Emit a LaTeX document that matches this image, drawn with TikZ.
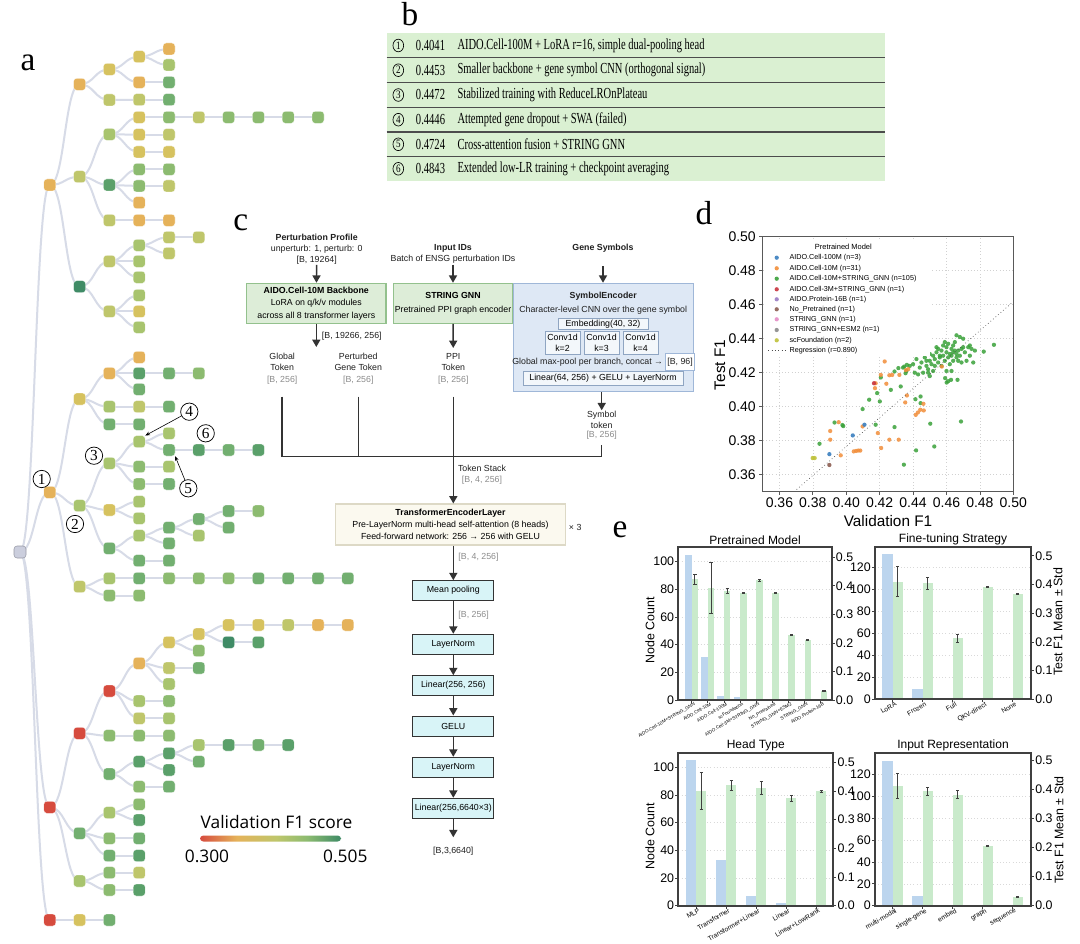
\documentclass[tikz,border=0pt]{standalone}
\usepackage{fontspec}
\usepackage{graphicx}
\setmainfont{Liberation Serif}
\setsansfont{Liberation Sans}
\newfontfamily\osans{Open Sans}
\usetikzlibrary{calc,arrows.meta,shapes.geometric}
\pgfdeclarelayer{bg}
\pgfsetlayers{bg,main}
\definecolor{tR}{HTML}{D64B3E}
\definecolor{tO}{HTML}{E5B25A}
\definecolor{tY}{HTML}{D6C25F}
\definecolor{tYG}{HTML}{BFC66B}
\definecolor{tLG}{HTML}{A8C46E}
\definecolor{tG}{HTML}{8CBB70}
\definecolor{tMG}{HTML}{72AF70}
\definecolor{tDG}{HTML}{5AA06A}
\definecolor{tT}{HTML}{3F8B66}
\definecolor{tRoot}{HTML}{CBCEDD}
\definecolor{edgec}{HTML}{D7DBE7}
\definecolor{tabgreen}{HTML}{DAF0D2}
\definecolor{cgfill}{HTML}{DDEDD8}
\definecolor{cgdraw}{HTML}{93C18D}
\definecolor{cbfill}{HTML}{DEE8F5}
\definecolor{cbdraw}{HTML}{9FB7D8}
\definecolor{cyfill}{HTML}{FBF9EF}
\definecolor{cydraw}{HTML}{DDD9C6}
\definecolor{ccfill}{HTML}{D8F4F7}
\definecolor{dBlue}{HTML}{3A7FBF}
\definecolor{dOrange}{HTML}{F28E3A}
\definecolor{dGreen}{HTML}{3AA13A}
\definecolor{dRed}{HTML}{C8333F}
\definecolor{dPurple}{HTML}{9A7CC4}
\definecolor{dBrown}{HTML}{8C5E52}
\definecolor{dPink}{HTML}{E58CC6}
\definecolor{dGray}{HTML}{8A8A8A}
\definecolor{dOlive}{HTML}{BFC23A}
\definecolor{eBlue}{HTML}{BCD5EE}
\definecolor{eGreen}{HTML}{C9EACB}
\pgfdeclarehorizontalshading{fone}{100bp}{color(0bp)=(tR); color(25bp)=(tR); color(38bp)=(tO); color(52bp)=(tYG); color(63bp)=(tG); color(75bp)=(tT); color(100bp)=(tT)}
\newcommand\tn[4]{\node[tnode,fill=#4] (#1) at ({20+29.8*#2},#3) {};}
\newcommand\tl[2]{\draw[tedge] (#1.center) .. controls ($(#1.center)+(14.9,0)$) and ($(#2.center)+(-14.9,0)$) .. (#2.center);}
\newcommand\ebar[4]{%
  \fill[ebl] ({\ecx+\eco+\ecs*#1-\ebw},\ecy) rectangle ({\ecx+\eco+\ecs*#1},{\ecy-\ekc*#2});
  \fill[egr] ({\ecx+\eco+\ecs*#1},\ecy) rectangle ({\ecx+\eco+\ecs*#1+\ebw},{\ecy-\ekf*#3});
  \draw[eerr] ({\ecx+\eco+\ecs*#1+\ebw/2},{\ecy-\ekf*(#3-#4)}) -- ({\ecx+\eco+\ecs*#1+\ebw/2},{\ecy-\ekf*(#3+#4)});
  \draw[eerr] ({\ecx+\eco+\ecs*#1+\ebw/2-1.6},{\ecy-\ekf*(#3-#4)}) -- ++(3.2,0);
  \draw[eerr] ({\ecx+\eco+\ecs*#1+\ebw/2-1.6},{\ecy-\ekf*(#3+#4)}) -- ++(3.2,0);
}
\newcommand\elab[2]{\node[elabs,rotate=30,anchor=north east] (e\eid l#1) at ({\ecx+\eco+\ecs*#1+2},{\ecy+2}) {#2};}
\newcommand\egrid{\foreach \t in \eglist \draw[egridl] (\ecx,{\ecy-\ekc*\t}) -- ({\ecx+\ecw},{\ecy-\ekc*\t});}
\newcommand\eaxes{%
  \draw[eframe] (\ecx,\ecy) rectangle ({\ecx+\ecw},{\ecy-\ech});
  \foreach \t in \elist {
    \draw[etick] (\ecx,{\ecy-\ekc*\t}) -- ++(-3,0);
    \node[etl,anchor=east] (e\eid y\t) at ({\ecx-4},{\ecy-\ekc*\t}) {\t};
  }
  \foreach \t in {0,...,5} {
    \draw[etick] ({\ecx+\ecw},{\ecy-\ekf*\t/10}) -- ++(3,0);
    \node[etl,anchor=west] (e\eid r\t) at ({\ecx+\ecw+4},{\ecy-\ekf*\t/10}) {0.\t};
  }
  \foreach \i in {0,...,\encat} \draw[etick] ({\ecx+\eco+\ecs*\i},\ecy) -- ++(0,3);
}
\begin{document}
\begin{tikzpicture}[x=0.75pt,y=-0.75pt,
  tnode/.style={rectangle,rounded corners=2.3pt,minimum width=9pt,minimum height=9pt,inner sep=0pt,draw=white,line width=0.2pt},
  tedge/.style={draw=edgec,line width=1.5pt},
  plabel/.style={font=\fontsize{25}{25}\selectfont,inner sep=0pt},
  anum/.style={circle,draw,line width=0.55pt,inner sep=0pt,minimum size=13pt,font=\fontsize{11.5}{11.5}\selectfont},
  aarrow/.style={-{Stealth[length=3.5pt,width=2.8pt]},line width=0.45pt},
  tabline/.style={draw=black!70,line width=0.9pt},
  bnum/.style={ellipse,draw,line width=0.5pt,inner sep=0pt,minimum width=8pt,minimum height=9.5pt,font=\fontsize{8.5}{8.5}\selectfont},
  btxt/.style={inner sep=0pt,font=\fontsize{11.5}{12}\selectfont},
  ct/.style={font=\sffamily\fontsize{6.6}{8}\selectfont,align=center,inner sep=0.5pt,text=black!88},
  cgr/.style={ct,text=black!45},
  cbox/.style={rectangle,line width=0.8pt,inner sep=1pt,align=center,font=\sffamily\fontsize{6.6}{9.4}\selectfont},
  ibox/.style={rectangle,draw=cbdraw!90!black,fill=white!65!cbfill,line width=0.5pt,inner sep=0.5pt,align=center,font=\sffamily\fontsize{6.6}{7.6}\selectfont},
  hbox/.style={rectangle,draw=black!80,fill=ccfill,line width=0.75pt,minimum width=60.75pt,minimum height=15pt,inner sep=0pt,font=\sffamily\fontsize{6.6}{8}\selectfont},
  carrow/.style={draw=black!80,line width=1.1pt,-{Triangle[width=6pt,length=5.5pt]}},
  cline/.style={draw=black!80,line width=1.1pt},
  dframe/.style={draw=black!65,line width=0.9pt},
  dgrid/.style={draw=black!18,line width=0.4pt,dotted},
  dtl/.style={font=\sffamily\fontsize{10.5}{11}\selectfont,inner sep=0pt},
  dleg/.style={font=\sffamily\fontsize{5.4}{6}\selectfont,inner sep=0pt,anchor=west},
  eframe/.style={draw=black!75,line width=1.4pt},
  egridl/.style={draw=black!15,line width=0.4pt,dotted},
  etick/.style={draw=black!75,line width=0.6pt},
  etl/.style={font=\sffamily\fontsize{9.3}{10}\selectfont,inner sep=0pt},
  elabs/.style={font=\sffamily\fontsize{5}{5}\selectfont,inner sep=0pt},
  ebl/.style={fill=eBlue},
  egr/.style={fill=eGreen},
  eerr/.style={draw=black!75,line width=0.7pt},
  etitle/.style={font=\sffamily\fontsize{9}{10}\selectfont,inner sep=0pt,anchor=south},
]
\useasboundingbox (0,0) rectangle (1080,944);
\begin{pgfonlayer}{bg}
\fill[white] (0,0) rectangle (1080,944);
\end{pgfonlayer}

%================ panel labels
\node[plabel] (la) at (28,63) {a};
\node[plabel] (lb) at (410,14) {b};
\node[plabel] (lc) at (240.8,222.5) {c};
\node[plabel] (ld) at (704,213) {d};
\node[plabel] (le) at (620,529.5) {e};

%================ panel a: tree
\node[tnode,fill=tRoot,draw=tRoot!75!black,line width=0.4pt] (R) at (20,552) {};
\tn{A}{1}{185}{tO}
\tn{A1}{2}{84.3}{tO}
\tn{A11}{3}{69.3}{tY}
\tn{A111}{4}{56.7}{tY}
\tn{A1111}{5}{49}{tO}
\tn{A1112}{5}{65}{tLG}
\tn{A112}{4}{82.3}{tO}
\tn{A1121}{5}{82.3}{tMG}
\tn{A12}{3}{100}{tYG}
\tn{A121}{4}{99.7}{tYG}
\tn{A1211}{5}{99.7}{tMG}
\tn{A2}{2}{176.7}{tYG}
\tn{A21}{3}{134.3}{tLG}
\tn{A211}{4}{117.3}{tY}
\tn{Aa5}{5}{117.3}{tG}
\tn{Aa6}{6}{117.3}{tYG}
\tn{Aa7}{7}{117.3}{tG}
\tn{Aa8}{8}{117.3}{tG}
\tn{Aa9}{9}{117.3}{tG}
\tn{Aa10}{10}{117.3}{tG}
\tn{A212}{4}{134.7}{tY}
\tn{A2121}{5}{134.7}{tYG}
\tn{A213}{4}{152}{tY}
\tn{A2131}{5}{152}{tY}
\tn{A22}{3}{185}{tDG}
\tn{A221}{4}{169.3}{tG}
\tn{A2211}{5}{169.3}{tG}
\tn{A222}{4}{186}{tG}
\tn{A2221}{5}{186}{tYG}
\tn{A223}{4}{202.7}{tO}
\tn{A23}{3}{220.3}{tYG}
\tn{A231}{4}{220.3}{tO}
\tn{A2311}{5}{220.3}{tO}
\tn{A3}{2}{286.7}{tT}
\tn{A31}{3}{261.3}{tYG}
\tn{A311}{4}{245.3}{tLG}
\tn{A3111}{5}{237.3}{tYG}
\tn{A31111}{6}{237.3}{tYG}
\tn{A3112}{5}{253.3}{tYG}
\tn{A312}{4}{261.3}{tLG}
\tn{A313}{4}{277.3}{tLG}
\tn{A32}{3}{311.5}{tYG}
\tn{A321}{4}{295.3}{tLG}
\tn{A322}{4}{311.5}{tY}
\tn{A323}{4}{327.3}{tLG}
\tn{B}{1}{492.3}{tO}
\tn{B1}{2}{399}{tY}
\tn{B11}{3}{373.3}{tO}
\tn{B111}{4}{357.3}{tO}
\tn{B112}{4}{373.3}{tDG}
\tn{B1121}{5}{373.3}{tMG}
\tn{B11211}{6}{373.3}{tG}
\tn{B113}{4}{389.3}{tMG}
\tn{B12}{3}{406.7}{tLG}
\tn{B121}{4}{406.7}{tYG}
\tn{B1211}{5}{406.7}{tMG}
\tn{B13}{3}{424.3}{tMG}
\tn{B131}{4}{424.3}{tMG}
\tn{B2}{2}{505.7}{tLG}
\tn{B21}{3}{463.3}{tLG}
\tn{B211}{4}{441.7}{tLG}
\tn{B2111}{5}{433.3}{tLG}
\tn{B2112}{5}{450}{tMG}
\tn{Bb6}{6}{450}{tDG}
\tn{Bb7}{7}{450}{tMG}
\tn{Bb8}{8}{450}{tDG}
\tn{B212}{4}{466.7}{tG}
\tn{B2121}{5}{466.7}{tLG}
\tn{B213}{4}{484}{tG}
\tn{B2131}{5}{484}{tMG}
\tn{B22}{3}{510}{tY}
\tn{B221}{4}{501.7}{tLG}
\tn{B222}{4}{518.3}{tLG}
\tn{B23}{3}{548.3}{tMG}
\tn{B231}{4}{535.7}{tLG}
\tn{B2311}{5}{527.7}{tMG}
\tn{B23111}{6}{519}{tMG}
\tn{B231111}{7}{511}{tMG}
\tn{B2311111}{8}{511}{tG}
\tn{B231112}{7}{527.7}{tMG}
\tn{B23112}{6}{535.7}{tLG}
\tn{B2312}{5}{543.3}{tMG}
\tn{B232}{4}{560.7}{tMG}
\tn{B2321}{5}{560.7}{tMG}
\tn{B3}{2}{586.7}{tYG}
\tn{B31}{3}{578.3}{tLG}
\tn{Bc4}{4}{578.3}{tMG}
\tn{Bc5}{5}{578.3}{tG}
\tn{Bc6}{6}{578.3}{tG}
\tn{Bc7}{7}{578.3}{tG}
\tn{Bc8}{8}{578.3}{tMG}
\tn{Bc9}{9}{578.3}{tMG}
\tn{Bc10}{10}{578.3}{tMG}
\tn{Bc11}{11}{578.3}{tMG}
\tn{B32}{3}{595.5}{tG}
\tn{B321}{4}{595.5}{tG}
\tn{C}{1}{807.3}{tR}
\tn{C1}{2}{733.3}{tR}
\tn{C11}{3}{691}{tR}
\tn{C111}{4}{663.3}{tO}
\tn{C1111}{5}{642.3}{tY}
\tn{C11111}{6}{634}{tY}
\tn{Cc7}{7}{625}{tY}
\tn{Cc8}{8}{625}{tY}
\tn{Cc9}{9}{625}{tYG}
\tn{Cc10}{10}{625}{tO}
\tn{Cc11}{11}{625}{tO}
\tn{Cd7}{7}{642.3}{tT}
\tn{Cd8}{8}{642.3}{tDG}
\tn{C11112}{6}{650.7}{tG}
\tn{C1112}{5}{668}{tYG}
\tn{C11121}{6}{668}{tMG}
\tn{C1113}{5}{684}{tLG}
\tn{C112}{4}{701}{tLG}
\tn{C1121}{5}{701}{tG}
\tn{C113}{4}{718.3}{tYG}
\tn{C1131}{5}{718.3}{tLG}
\tn{C12}{3}{735.7}{tG}
\tn{C121}{4}{735.7}{tG}
\tn{C1211}{5}{735.7}{tG}
\tn{C13}{3}{774}{tMG}
\tn{C131}{4}{761.7}{tDG}
\tn{C1311}{5}{753.3}{tDG}
\tn{Ce6}{6}{745}{tLG}
\tn{Ce7}{7}{745}{tDG}
\tn{Ce8}{8}{745}{tMG}
\tn{Ce9}{9}{745}{tDG}
\tn{C13112}{6}{761.7}{tMG}
\tn{C1312}{5}{770}{tDG}
\tn{C132}{4}{786.7}{tG}
\tn{C1321}{5}{786.7}{tMG}
\tn{C2}{2}{833.3}{tMG}
\tn{C21}{3}{812.7}{tLG}
\tn{C211}{4}{804.3}{tG}
\tn{C212}{4}{820}{tDG}
\tn{C22}{3}{838.3}{tG}
\tn{C221}{4}{838.3}{tMG}
\tn{C23}{3}{855.7}{tMG}
\tn{C231}{4}{855.7}{tDG}
\tn{C3}{2}{881}{tLG}
\tn{C31}{3}{872.7}{tG}
\tn{C311}{4}{872.7}{tYG}
\tn{C32}{3}{890}{tG}
\tn{C321}{4}{890}{tDG}
\tn{D}{1}{920}{tR}
\tn{D1}{2}{920}{tY}
\tn{D11}{3}{920}{tMG}
\begin{pgfonlayer}{bg}
\foreach \p/\c in {R/A,R/B,R/C,R/D,
 A/A1,A/A2,A/A3,A1/A11,A1/A12,A11/A111,A11/A112,A111/A1111,A111/A1112,A112/A1121,A12/A121,A121/A1211,
 A2/A21,A2/A22,A2/A23,A21/A211,A21/A212,A21/A213,A211/Aa5,Aa5/Aa6,Aa6/Aa7,Aa7/Aa8,Aa8/Aa9,Aa9/Aa10,
 A212/A2121,A213/A2131,A22/A221,A22/A222,A22/A223,A221/A2211,A222/A2221,A23/A231,A231/A2311,
 A3/A31,A3/A32,A31/A311,A31/A312,A31/A313,A311/A3111,A311/A3112,A3111/A31111,A32/A321,A32/A322,A32/A323,
 B/B1,B/B2,B/B3,B1/B11,B1/B12,B1/B13,B11/B111,B11/B112,B11/B113,B112/B1121,B1121/B11211,B12/B121,B121/B1211,B13/B131,
 B2/B21,B2/B22,B2/B23,B21/B211,B21/B212,B21/B213,B211/B2111,B211/B2112,B2112/Bb6,Bb6/Bb7,Bb7/Bb8,B212/B2121,B213/B2131,
 B22/B221,B22/B222,B23/B231,B23/B232,B231/B2311,B231/B2312,B2311/B23111,B2311/B23112,B23111/B231111,B23111/B231112,
 B231111/B2311111,B232/B2321,B3/B31,B3/B32,B31/Bc4,Bc4/Bc5,Bc5/Bc6,Bc6/Bc7,Bc7/Bc8,Bc8/Bc9,Bc9/Bc10,Bc10/Bc11,B32/B321,
 C/C1,C/C2,C/C3,C1/C11,C1/C12,C1/C13,C11/C111,C11/C112,C11/C113,C111/C1111,C111/C1112,C111/C1113,C1111/C11111,C1111/C11112,
 C11111/Cc7,C11111/Cd7,Cc7/Cc8,Cc8/Cc9,Cc9/Cc10,Cc10/Cc11,Cd7/Cd8,C1112/C11121,C112/C1121,C113/C1131,C12/C121,C121/C1211,
 C13/C131,C13/C132,C131/C1311,C131/C1312,C1311/Ce6,C1311/C13112,Ce6/Ce7,Ce7/Ce8,Ce8/Ce9,C132/C1321,
 C2/C21,C2/C22,C2/C23,C21/C211,C21/C212,C22/C221,C23/C231,C3/C31,C3/C32,C31/C311,C32/C321,D/D1,D1/D11}
 {\tl{\p}{\c}}
\end{pgfonlayer}
% circled milestones
\node[anum] (n1) at (41.7,479) {1};
\node[anum] (n2) at (75,524) {2};
\node[anum] (n3) at (94,455.7) {3};
\node[anum] (n4) at (189.3,411.7) {4};
\node[anum] (n5) at (188.3,488.3) {5};
\node[anum] (n6) at (205.7,433.3) {6};
\draw[aarrow] (n4) -- (B211.north east);
\draw[aarrow] (n5) -- (B2112.south east);
% colour bar
\node[font=\osans\fontsize{13}{14}\selectfont,inner sep=0pt] (cbt) at (276.5,822) {Validation F1 score};
\shade[shading=fone,rounded corners=2.5pt] (200,835.5) rectangle (341,841.5);
\node[font=\osans\fontsize{13}{14}\selectfont,inner sep=0pt] (cbl) at (207,856) {0.300};
\node[font=\osans\fontsize{13}{14}\selectfont,inner sep=0pt] (cbr) at (345.3,856) {0.505};

%================ panel b: table
\fill[tabgreen] (386.7,33.3) rectangle (885,181);
\foreach \y in {57.7,82.7,107.3,132,156.7} \draw[tabline] (386.7,\y) -- (885,\y);
\foreach \i/\y/\v/\t in {
 1/45.5/0.4041/{AIDO.Cell-100M + LoRA r=16, simple dual-pooling head},
 2/70.2/0.4453/{Smaller backbone + gene symbol CNN (orthogonal signal)},
 3/95/0.4472/{Stabilized training with ReduceLROnPlateau},
 4/119.7/0.4446/{Attempted gene dropout + SWA (failed)},
 5/144.3/0.4724/{Cross-attention fusion + STRING GNN},
 6/168.8/0.4843/{Extended low-LR training + checkpoint averaging}} {
 \node[bnum] (b\i c) at (398.3,\y) {\scalebox{0.8}[1]{\i}};
 \node[btxt,anchor=west] (b\i v) at (415.7,\y) {\scalebox{0.69}[1]{\v}};
 \node[btxt,anchor=west] (b\i t) at (457.3,\y) {\scalebox{0.685}[1]{\t}};
}

%================ panel c: architecture
\node[ct] (pp) at (316.7,249) {\textbf{Perturbation Profile}\\[0.4pt]unperturb: 1, perturb: 0\\{[B, 19264]}};
\node[cbox,fill=cgfill,draw=cgdraw,minimum width=104.5pt,minimum height=30pt] (aido) at (316.3,303.3) {\textbf{AIDO.Cell-10M Backbone}\\LoRA on q/k/v modules\\across all 8 transformer layers};
\draw[carrow] (pp) -- (aido);
\coordinate (aout) at (316.3,347);
\draw[carrow] (aido) -- (aout);
\node[ct,anchor=west] (aoutl) at (321,336.7) {[B, 19266, 256]};
\node[ct] (inp) at (453,254) {\textbf{Input IDs}\\[0.8pt]Batch of ENSG perturbation IDs};
\node[cbox,fill=cgfill,draw=cgdraw,minimum width=87pt,minimum height=30pt,font=\sffamily\fontsize{6.6}{11}\selectfont] (sgnn) at (453,303.3) {\textbf{STRING GNN}\\Pretrained PPI graph encoder};
\draw[carrow] (inp) -- (sgnn);
\node[ct] (gsym) at (603,248) {\textbf{Gene Symbols}};
\node[cbox,fill=cbfill,draw=cbdraw,minimum width=134.8pt,minimum height=81.3pt] (senc) at (603.2,337.5) {};
\draw[carrow,shorten <=10pt] (gsym) -- (gsym |- senc.north);
\node[ct] (sencT) at (603.2,296) {\textbf{SymbolEncoder}};
\node[ct] (sencD) at (603.2,310) {Character-level CNN over the gene symbol};
\node[ibox,minimum width=67.5pt,minimum height=8.25pt] (emb) at (603,323.8) {Embedding(40, 32)};
\node[ibox,minimum width=26.25pt,minimum height=16.7pt] (cv1) at (562.5,342.8) {Conv1d\\k=2};
\node[ibox,minimum width=26.25pt,minimum height=16.7pt] (cv2) at (601.5,342.8) {Conv1d\\k=3};
\node[ibox,minimum width=26.25pt,minimum height=16.7pt] (cv3) at (640.5,342.8) {Conv1d\\k=4};
\node[ct] (gmp) at (603.5,362) {Global max-pool per branch, concat → \fcolorbox{cbdraw}{white}{\kern-2pt[B, 96]\kern-2pt}};
\node[ibox,minimum width=119.8pt,minimum height=10pt] (lin64) at (603,378.3) {Linear(64, 256) + GELU + LayerNorm};
% tokens
\node[ct] (gtok) at (282.2,362) {Global\\Token};
\node[cgr] (gtokd) at (282.2,380.7) {[B, 256]};
\node[ct] (ptok) at (358.3,362) {Perturbed\\Gene Token};
\node[cgr] (ptokd) at (358.3,380.7) {[B, 256]};
\node[ct] (ppi) at (453.3,362) {PPI\\Token};
\node[cgr] (ppid) at (453.3,380.7) {[B, 256]};
\draw[carrow,shorten >=3.5pt] (sgnn) -- (ppi);
\node[ct] (stok) at (601.7,419.8) {Symbol\\token};
\node[cgr] (stokd) at (601.7,435.7) {[B, 256]};
\draw[carrow] (senc.south -| stok) -- (stok.north);
\coordinate (bus) at (453.3,456.7);
\draw[cline] (gtokd.south) ++(0,11) |- (bus) -| ($(stokd.south)+(0,4)$);
\draw[cline] (ptokd.south) ++(0,11) -- (ptokd.south |- bus);
\draw[cline] (ppid.south) ++(0,11) -- (bus);
\node[ct] (tstack) at (482,475) {Token Stack\\[0.5pt]{\color{black!45}[B, 4, 256]}};
\node[cbox,fill=cyfill,draw=cydraw,minimum width=173pt,minimum height=30.75pt,font=\sffamily\fontsize{6.6}{9}\selectfont] (tel) at (450.5,524.5) {\textbf{TransformerEncoderLayer}\\Pre-LayerNorm multi-head self-attention (8 heads)\\Feed-forward network: 256 → 256 with GELU};
\node[ct,anchor=west] (x3) at (568,527) {× 3};
\draw[carrow] (bus) -- (tel.north -| bus);
\node[hbox] (mp) at (453.3,590.7) {Mean pooling};
\node[hbox] (ln1) at (453.3,644.3) {LayerNorm};
\node[hbox] (lin1) at (453.3,685.7) {Linear(256, 256)};
\node[hbox] (gelu) at (453.3,726) {GELU};
\node[hbox] (ln2) at (453.3,767.3) {LayerNorm};
\node[hbox] (lin2) at (453.3,808.3) {Linear(256,6640×3)};
\node[ct] (outd) at (453.3,851) {[B,3,6640]};
\draw[carrow] (tel.south -| bus) -- (mp.north);
\draw[carrow] (mp) -- (ln1);
\draw[carrow] (ln1) -- (lin1);
\draw[carrow] (lin1) -- (gelu);
\draw[carrow] (gelu) -- (ln2);
\draw[carrow] (ln2) -- (lin2);
\draw[carrow,shorten >=6.5pt] (lin2) -- (outd);
\node[cgr,anchor=west] (l1) at (457.5,557.3) {[B, 4, 256]};
\node[cgr,anchor=west] (l2) at (457.5,615) {[B, 256]};

%================ panel d: scatter
\begin{scope}[shift={(762.7,491.7)},x=12.53pt,y=12.75pt,shift={(-35,-35)}]
 \foreach \v in {36,38,...,48} {
   \draw[dgrid] (\v,35) -- (\v,50);
   \draw[dgrid] (35,\v) -- (50,\v);
 }
 \foreach \x/\y in {44.0/42.5,44.2/42.8,44.4/42.3,44.5/42.6,44.6/42.0,44.7/42.9,44.8/42.4,44.9/42.2,45.0/43.1,45.0/42.7,45.1/42.5,45.2/43.0,45.3/42.8,45.4/43.2,45.5/42.6,45.5/43.4,45.6/42.9,45.7/43.3,45.7/42.4,45.8/43.6,45.8/43.0,45.9/42.7,46.0/43.2,46.0/43.5,46.1/42.9,46.1/43.7,46.2/43.1,46.2/42.5,46.3/43.4,46.3/43.0,46.4/43.2,46.4/42.7,46.5/43.3,46.5/43.8,46.6/43.1,46.6/44.2,46.7/43.3,46.7/42.7,46.8/43.0,46.9/43.4,46.9/42.6,47.0/44.0,47.1/43.2,47.2/42.7,47.3/43.5,47.4/43.0,47.5/43.4,47.6/42.6,47.7/43.3,45.2/42.1,44.3/41.9,43.8/42.4,43.6/42.1,43.4/42.3,44.9/42.0,45.3/42.4,45.9/43.8,46.1/41.5,46.3/42.1,46.8/44.1,45.4/43.5,44.8/42.7,45.6/43.0,46.4/43.6,47.0/43.5,46.6/42.9,45.0/41.8,47.4/43.6,46.0/42.1,44.1/42.0,
 38.40/37.82,39.30/39.07,39.77/38.92,39.82/38.86,40.98/39.86,41.37/40.41,41.76/38.94,41.85/40.80,42.01/40.31,42.07/41.72,42.67/40.99,42.89/38.80,42.89/42.07,43.12/42.27,43.26/41.19,43.45/36.59,43.47/42.36,43.63/42.46,43.55/41.97,44.14/40.44,44.18/37.43,44.45/40.60,44.45/40.21,45.03/39.00,45.27/37.66,46.87/39.13,45.92/41.68,46.01/41.42,46.27/41.58,46.66/41.58,48.84/43.64,48.23/43.24}
   \fill[dGreen,opacity=0.85] (\x,\y) circle (1.6pt);
 \foreach \x/\y in {39.04/38.57,39.04/38.06,39.55/39.09,39.67/37.14,40.45/37.37,40.59/37.40,40.72/37.42,40.84/37.42,40.98/38.84,41.89/38.45,42.09/37.57,42.58/38.06,43.14/38.06,41.72/41.09,41.76/41.38,42.07/41.87,42.30/42.66,42.40/41.35,42.58/41.85,42.75/41.87,43.18/41.87,43.57/42.15,43.71/42.21,43.53/40.25,43.63/40.66,44.16/39.52,44.29/39.66,44.43/39.82,44.62/40.17,44.64/39.78,45.72/42.36}
   \fill[dOrange,opacity=0.85] (\x,\y) circle (1.6pt);
 \foreach \x/\y in {38.99/37.21,40.39/38.31,41.09/38.94}
   \fill[dBlue,opacity=0.9] (\x,\y) circle (1.6pt);
 \fill[dRed,opacity=0.9] (41.66,41.38) circle (1.6pt);
 \fill[dBrown,opacity=0.9] (38.99,36.57) circle (1.6pt);
 \fill[dOlive,opacity=0.9] (37.99,36.98) circle (1.6pt);
 \fill[dOlive,opacity=0.9] (38.11,36.98) circle (1.6pt);
 \draw[black!70,line width=0.5pt,dotted] (36.88,35) -- (50,46.18);
 \foreach \v in {36,38,...,50} {
   \draw[black!65,line width=0.6pt] (\v,35) -- ++(0,-2.5pt);
   \node[dtl,anchor=north] (dx\v) at (\v,35) [yshift=-4.5pt] {0.\v};
   \draw[black!65,line width=0.6pt] (35,\v) -- ++(-2.5pt,0);
   \node[dtl,anchor=east] (dy\v) at (35,\v) [xshift=-5pt] {0.\v};
 }
\end{scope}
\fill[white] (766,240) rectangle (930,356);
\draw[dframe] (762.7,236.7) rectangle (1013.3,491.7);
\node[font=\sffamily\fontsize{5.6}{6}\selectfont,inner sep=0pt] (dlt) at (843.3,246.7) {Pretrained Model};
\foreach \y/\c/\t [count=\k] in {257.7/dBlue/{AIDO.Cell-100M (n=3)},268.3/dOrange/{AIDO.Cell-10M (n=31)},278.7/dGreen/{AIDO.Cell-10M+STRING\_GNN (n=105)},289.3/dRed/{AIDO.Cell-3M+STRING\_GNN (n=1)},299.3/dPurple/{AIDO.Protein-16B (n=1)},309.3/dBrown/{No\_Pretrained (n=1)},319.3/dPink/{STRING\_GNN (n=1)},330/dGray/{STRING\_GNN+ESM2 (n=1)},340.3/dOlive/{scFoundation (n=2)}} {
  \fill[\c,opacity=0.9] (776.7,\y) circle (1.6pt);
  \node[dleg] (dl\k) at (789.3,\y) {\t};
}
\draw[black!70,line width=0.5pt,dotted] (768.3,350.7) -- (785,350.7);
\node[dleg] (dlr) at (789.3,350.7) {Regression (r=0.890)};
\node[font=\sffamily\fontsize{11.5}{12}\selectfont,inner sep=0pt,rotate=90] (dyl) at (720,365) {Test F1};
\node[font=\sffamily\fontsize{11.5}{12}\selectfont,inner sep=0pt] (dxl) at (888,521) {Validation F1};

%================ panel e: bar charts
% chart 1
\def\eid{a}\def\ecx{678.3}\def\ecy{700}\def\ecw{153.4}\def\ech{153.3}\def\ekc{1.385}\def\ekf{285.3}\def\eco{13.4}\def\ecs{16.13}\def\ebw{6.5}\def\elist{0,20,40,60,80,100}\def\eglist{20,40,60,80,100}\def\encat{8}
\egrid
\ebar{0}{105}{0.423}{0.017}
\ebar{1}{31}{0.394}{0.089}
\ebar{2}{3}{0.382}{0.010}
\ebar{3}{2}{0.376}{0.002}
\ebar{4}{1}{0.419}{0.002}
\ebar{5}{1}{0.374}{0.002}
\ebar{6}{1}{0.228}{0.002}
\ebar{7}{1}{0.210}{0.002}
\ebar{8}{1}{0.033}{0.002}
\eaxes
\begin{scope}[elabs/.append style={font=\sffamily\fontsize{3.5}{4}\selectfont}]
\elab{0}{AIDO.Cell-10M+STRING\_GNN}
\elab{1}{AIDO.Cell-10M}
\elab{2}{AIDO.Cell-100M}
\elab{3}{scFoundation}
\elab{4}{AIDO.Cell-3M+STRING\_GNN}
\elab{5}{No\_Pretrained}
\elab{6}{STRING\_GNN+ESM2}
\elab{7}{STRING\_GNN}
\elab{8}{AIDO.Protein-16B}
\end{scope}
\node[etitle] (eat) at (755,545) {Pretrained Model};
\node[etl,rotate=90] (eay) at (650,630) {Node Count};
% chart 2
\def\eid{b}\def\ecx{875}\def\ecy{699.3}\def\ecw{156}\def\ech{152}\def\ekc{1.1}\def\ekf{287}\def\eco{17.7}\def\ecs{30}\def\ebw{10.3}\def\elist{0,20,40,60,80,100,120}\def\eglist{20,40,60,80,100,120}\def\encat{4}
\egrid
\ebar{0}{132}{0.410}{0.052}
\ebar{1}{9}{0.404}{0.020}
\ebar{2}{1}{0.213}{0.014}
\ebar{3}{0}{0.390}{0.002}
\ebar{4}{0}{0.366}{0.002}
\eaxes
\elab{0}{LoRA}
\elab{1}{Frozen}
\elab{2}{Full}
\elab{3}{QKV-direct}
\elab{4}{None}
\node[etitle] (ebt) at (953,545.5) {Fine-tuning Strategy};
\node[etl,rotate=90] (eby) at (1058,621.7) {Test F1 Mean ± Std};
% chart 3
\def\eid{c}\def\ecx{678.3}\def\ecy{905.7}\def\ecw{155}\def\ech{153}\def\ekc{1.385}\def\ekf{287}\def\eco{17.7}\def\ecs{30}\def\ebw{10.3}\def\elist{0,20,40,60,80,100}\def\eglist{20,40,60,80,100}\def\encat{4}
\egrid
\ebar{0}{105}{0.400}{0.063}
\ebar{1}{33}{0.420}{0.017}
\ebar{2}{7}{0.411}{0.023}
\ebar{3}{2}{0.374}{0.010}
\ebar{4}{0.6}{0.398}{0.002}
\eaxes
\elab{0}{MLP}
\elab{1}{Transformer}
\elab{2}{Transformer+Linear}
\elab{3}{Linear}
\elab{4}{Linear+LowRank}
\node[etitle] (ect) at (755.8,751) {Head Type};
\node[etl,rotate=90] (ecy) at (650,836) {Node Count};
% chart 4
\def\eid{d}\def\ecx{875}\def\ecy{905.7}\def\ecw{156}\def\ech{152.4}\def\ekc{1.095}\def\ekf{291.4}\def\eco{17.7}\def\ecs{30}\def\ebw{10.3}\def\elist{0,20,40,60,80,100,120}\def\eglist{20,40,60,80,100,120}\def\encat{4}
\egrid
\ebar{0}{132}{0.411}{0.044}
\ebar{1}{9}{0.392}{0.014}
\ebar{2}{1}{0.381}{0.013}
\ebar{3}{0}{0.205}{0.002}
\ebar{4}{0}{0.031}{0.002}
\eaxes
\elab{0}{multi-modal}
\elab{1}{single-gene}
\elab{2}{embed}
\elab{3}{graph}
\elab{4}{sequence}
\node[etitle] (edt) at (953,751) {Input Representation};
\node[etl,rotate=90] (edy) at (1059,830) {Test F1 Mean ± Std};
\end{tikzpicture}
\end{document}
